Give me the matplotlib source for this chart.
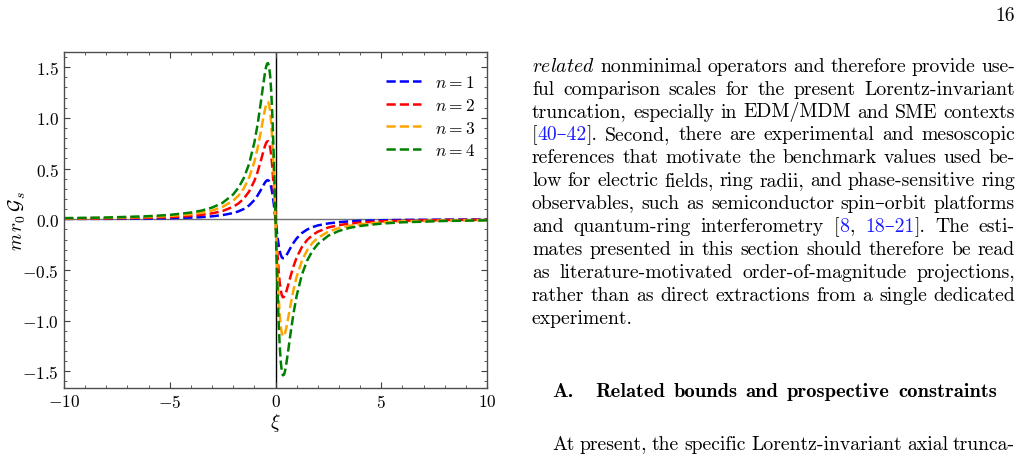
import re
import numpy as np
import matplotlib
matplotlib.use("Agg")
import matplotlib.pyplot as plt

# xi grid and curve values
xi = [-10, -8, -6, -5, -4, -3.5, -3, -2.5, -2, -1.75, -1.5, -1.25, -1.0, -0.85, -0.7,
      -0.6, -0.5, -0.45, -0.4, -0.35, -0.3, -0.25, -0.2, -0.15, -0.1, -0.05, 0.0,
      0.05, 0.1, 0.15, 0.2, 0.25, 0.3, 0.35, 0.4, 0.45, 0.5, 0.6, 0.7, 0.85, 1.0,
      1.25, 1.5, 1.75, 2, 2.5, 3, 3.5, 4, 5, 6, 8, 10]

g_n1 = [0.003, 0.004, 0.007, 0.011, 0.016, 0.021, 0.029, 0.041, 0.061, 0.078, 0.101, 0.136,
        0.189, 0.233, 0.286, 0.325, 0.361, 0.375, 0.384, 0.385, 0.376, 0.353, 0.313, 0.256,
        0.183, 0.095, 0.0,
        -0.095, -0.183, -0.256, -0.313, -0.353, -0.376, -0.385, -0.384, -0.375, -0.361,
        -0.325, -0.286, -0.233, -0.189, -0.136, -0.101, -0.078, -0.061, -0.041, -0.029,
        -0.021, -0.016, -0.011, -0.007, -0.004, -0.003]
g_n2 = [0.005, 0.008, 0.015, 0.021, 0.033, 0.043, 0.058, 0.081, 0.123, 0.156, 0.203, 0.273,
        0.378, 0.465, 0.571, 0.649, 0.721, 0.749, 0.767, 0.770, 0.751, 0.705, 0.627, 0.513,
        0.365, 0.190, 0.0,
        -0.190, -0.365, -0.513, -0.627, -0.705, -0.751, -0.770, -0.767, -0.749, -0.721,
        -0.649, -0.571, -0.465, -0.378, -0.273, -0.203, -0.156, -0.123, -0.081, -0.058,
        -0.043, -0.033, -0.021, -0.015, -0.008, -0.005]
g_n3 = [0.008, 0.013, 0.022, 0.032, 0.049, 0.064, 0.086, 0.122, 0.184, 0.233, 0.304, 0.409,
        0.567, 0.698, 0.857, 0.974, 1.082, 1.124, 1.151, 1.155, 1.127, 1.058, 0.940, 0.769,
        0.548, 0.285, 0.0,
        -0.285, -0.548, -0.769, -0.940, -1.058, -1.127, -1.155, -1.151, -1.124, -1.082,
        -0.974, -0.857, -0.698, -0.567, -0.409, -0.304, -0.233, -0.184, -0.122, -0.086,
        -0.064, -0.049, -0.032, -0.022, -0.013, -0.008]
g_n4 = [0.011, 0.017, 0.030, 0.043, 0.066, 0.085, 0.115, 0.162, 0.245, 0.311, 0.406, 0.545,
        0.756, 0.930, 1.143, 1.298, 1.442, 1.499, 1.534, 1.540, 1.502, 1.410, 1.253, 1.026,
        0.730, 0.380, 0.0,
        -0.380, -0.730, -1.026, -1.253, -1.410, -1.502, -1.540, -1.534, -1.499, -1.442,
        -1.298, -1.143, -0.930, -0.756, -0.545, -0.406, -0.311, -0.245, -0.162, -0.115,
        -0.085, -0.066, -0.043, -0.030, -0.017, -0.011]

series = [g_n1, g_n2, g_n3, g_n4]
labels = [r'$n=1$', r'$n=2$', r'$n=3$', r'$n=4$']
colors = ['blue', 'red', 'orange', 'green']

# page text next to the figure; <...> marks blue citation links
body_lines = [
    r"$\mathit{related}$ nonminimal operators and therefore provide use-",
    "ful comparison scales for the present Lorentz-invariant",
    "truncation, especially in EDM/MDM and SME contexts",
    "[<40–42>]. Second, there are experimental and mesoscopic",
    "references that motivate the benchmark values used be-",
    "low for electric fields, ring radii, and phase-sensitive ring",
    "observables, such as semiconductor spin–orbit platforms",
    "and quantum-ring interferometry [<8>, <18–21>]. The esti-",
    "mates presented in this section should therefore be read",
    "as literature-motivated order-of-magnitude projections,",
    "rather than as direct extractions from a single dedicated",
    "experiment.",
]
heading = "Related bounds and prospective constraints"
last_line = "At present, the specific Lorentz-invariant axial trunca-"

plt.rcParams['mathtext.fontset'] = 'cm'
plt.rcParams['axes.formatter.use_mathtext'] = True
plt.rcParams['font.family'] = ['cmr10', 'DejaVu Serif']

W, H = 1028, 456
fig = plt.figure(figsize=(W / 100, H / 100), dpi=100)
ax = fig.add_axes([64 / W, 1 - 389 / H, 423 / W, 336 / H])

ax.axhline(0, color='0.45', lw=1.0, zorder=1)
ax.axvline(0, color='black', lw=1.0, zorder=1)
for vals, lab, col in zip(series, labels, colors):
    ax.plot(xi, vals, ls='--', lw=1.8, color=col, label=lab, zorder=2)

ax.set_xlim(-10, 10)
ax.set_ylim(-1.665, 1.65)
ax.set_xticks([-10, -5, 0, 5, 10])
ax.set_yticks([-1.5, -1.0, -0.5, 0.0, 0.5, 1.0, 1.5])
ax.set_yticklabels(['$-1.5$', '$-1.0$', '$-0.5$', '$0.0$', '$0.5$', '$1.0$', '$1.5$'])
ax.set_xticks(np.arange(-10, 11, 1), minor=True)
ax.set_yticks(np.arange(-1.6, 1.65, 0.1), minor=True)
ax.tick_params(which='both', direction='in', top=True, right=True, labelsize=12.5,
               color='0.25')
ax.tick_params(which='major', length=4)
ax.tick_params(which='minor', length=2)
for sp in ax.spines.values():
    sp.set_color('0.3')
    sp.set_linewidth(1.0)

ax.set_xlabel(r'$\xi$', fontsize=14, labelpad=1)
ax.set_ylabel(r'$m\,r_0\,\mathcal{G}_s$', fontsize=14)
ax.yaxis.set_label_coords(-0.085, 0.5)

ax.legend(loc='upper right', frameon=False, fontsize=12.5, handlelength=2.0,
          handletextpad=0.8, labelspacing=0.38, bbox_to_anchor=(1.008, 0.98))

# justified page text, word by word
renderer = fig.canvas.get_renderer()
FS = 14.2
link = '#1a1aff'


def word_parts(word):
    parts = [p for p in re.split(r'(<[^>]*>)', word) if p]
    return [(p[1:-1], link) if p.startswith('<') else (p, 'black') for p in parts]


def text_width(s, fs, **kw):
    t = fig.text(0, 0, s, fontsize=fs, **kw)
    w = t.get_window_extent(renderer).width
    t.remove()
    return w


def put_line(line, x0, x1, base, justify=True, space=6.5, fs=FS, **kw):
    words = [word_parts(w) for w in line.split(' ')]
    widths = [[text_width(s, fs, **kw) for s, _ in parts] for parts in words]
    total = sum(sum(ws) for ws in widths)
    gap = (x1 - x0 - total) / (len(words) - 1) if justify else space
    x = x0
    for parts, ws in zip(words, widths):
        for (s, col), w in zip(parts, ws):
            fig.text(x / W, 1 - base / H, s, fontsize=fs, color=col, va='baseline', **kw)
            x += w
        x += gap


for i, line in enumerate(body_lines):
    put_line(line, 532, 1015, 71.7 + 22.9 * i, justify=(i < len(body_lines) - 1))

fig.text(552 / W, 1 - 396.7 / H, 'A.', fontsize=14.8, family='cmb10', va='baseline')
put_line(heading, 595, 997, 396.7, fs=14.8, family='cmb10')
put_line(last_line, 552, 1015, 450)
fig.text(1015 / W, 1 - 21 / H, '16', fontsize=FS, ha='right', va='baseline')

fig.savefig('out.png', dpi=100)
